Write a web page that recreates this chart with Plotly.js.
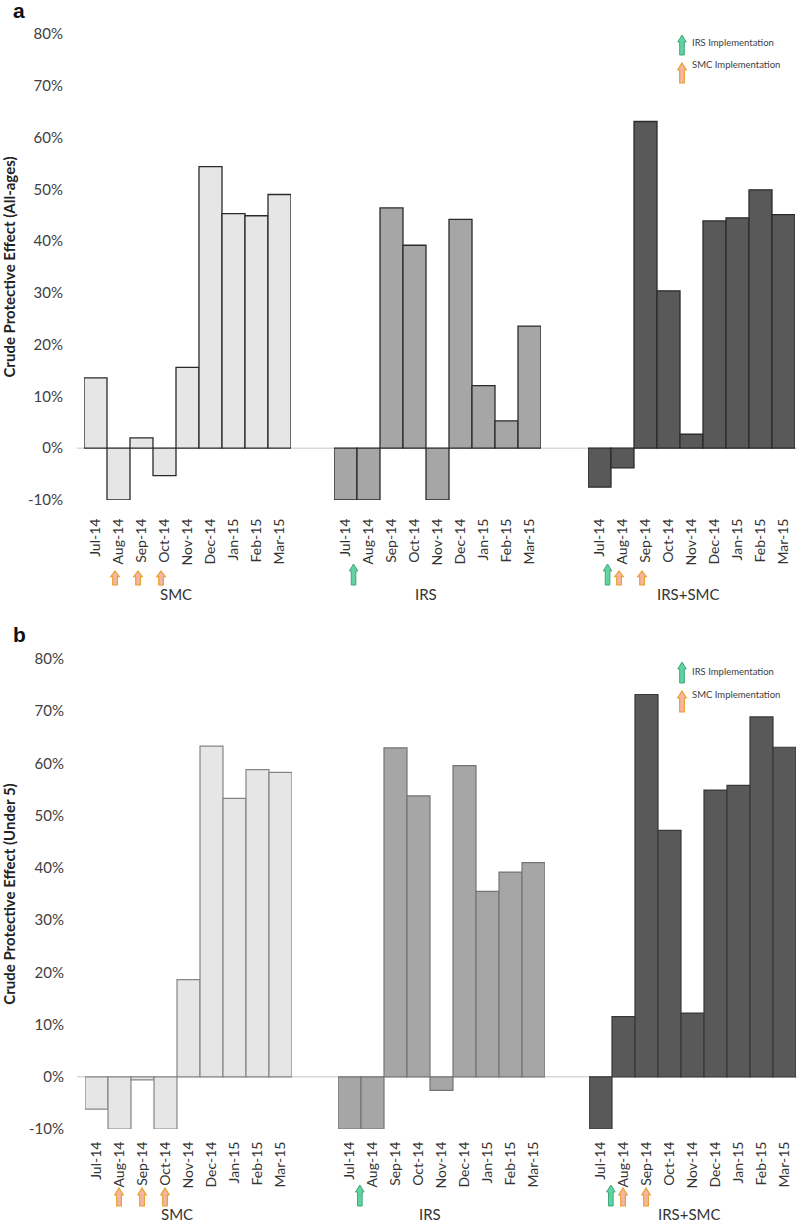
<!DOCTYPE html>
<html><head><meta charset="utf-8">
<script src="https://cdn.plot.ly/plotly-3.0.1.min.js"></script>
<style>html,body{margin:0;padding:0;background:#fff}</style>
</head><body>
<div id="chart" style="width:797px;height:1224px"></div>
<script>
// ---------- DATA ----------
const months = ['Jul-14','Aug-14','Sep-14','Oct-14','Nov-14','Dec-14','Jan-15','Feb-15','Mar-15'];
const groups = ['SMC','IRS','IRS+SMC'];
const yTickVals = [-10,0,10,20,30,40,50,60,70,80];
const yTickText = ['-10%','0%','10%','20%','30%','40%','50%','60%','70%','80%'];
const panelTitles = ['Crude Protective Effect (All-ages)','Crude Protective Effect (Under 5)'];
const panelLetters = ['a','b'];
// Panel a: all ages (%)
const smcAll    = [13.6,-10,2.0,-5.3,15.6,54.4,45.3,44.9,49.0];
const irsAll    = [-10,-10,46.4,39.2,-10,44.2,12.1,5.3,23.6];
const irsSmcAll = [-7.5,-3.8,63.1,30.4,2.7,43.9,44.5,49.9,45.1];
// Panel b: under 5 (%)
const smcU5    = [-6.2,-10,-0.6,-10,18.6,63.3,53.3,58.8,58.3];
const irsU5    = [-10,-10,63.0,53.8,-2.6,59.6,35.5,39.2,41.0];
const irsSmcU5 = [-10,11.5,73.2,47.2,12.2,54.9,55.8,68.9,63.1];
// Implementation months per group
const irsImpl = [[],['Jul-14'],['Jul-14']];
const smcImpl = [['Aug-14','Sep-14','Oct-14'],[],['Aug-14','Sep-14']];
const legendLabels = ['IRS Implementation','SMC Implementation'];

// ---------- STYLE / LAYOUT ----------
const W = 797, H = 1224;
const fontFam = 'Lato, "Noto Sans", sans-serif';
const fills = ['#e6e6e6','#a6a6a6','#595959'];
const lines = [['#2b2b2b','#2b2b2b','#2b2b2b'],['#858585','#747474','#383838']];
const lineW = [1.3,1.2];
const panels = [
  {data:[smcAll,irsAll,irsSmcAll], yTop:34, yBot:500, doms:[[84,291],[334,541],[588,795]], tlen:12,
   arrowBase:585, gH:21, oH:14, gOff:0.35, oOff:-0.15, groupY:594, letterY:11, legY:[43,64], legArrow:[[35,55],[63,83]]},
  {data:[smcU5,irsU5,irsSmcU5], yTop:659, yBot:1129, doms:[[85,292],[338,545],[589,796]], tlen:6,
   arrowBase:1206, gH:21, oH:18, gOff:0.45, oOff:-0.02, groupY:1214, letterY:634, legY:[671,694], legArrow:[[662,683],[691,712]]}
];
const px = v => v / W;
const py = v => 1 - v / H;

const traces = [];
const layout = {
  width: W, height: H, margin:{l:0,r:0,t:0,b:0}, showlegend:false,
  paper_bgcolor:'#fff', plot_bgcolor:'rgba(0,0,0,0)', bargap:0,
  font:{family:fontFam, color:'#333'},
  shapes:[], annotations:[]
};

function arrowPath(cx, tip, h){
  const w = 8.5, sw = 4.6, hh = Math.min(7, h*0.4);
  const pts = [[cx,tip],[cx+w/2,tip+hh],[cx+sw/2,tip+hh],[cx+sw/2,tip+h],[cx-sw/2,tip+h],[cx-sw/2,tip+hh],[cx-w/2,tip+hh]];
  return 'M' + pts.map(p => px(p[0]).toFixed(5)+','+py(p[1]).toFixed(5)).join(' L') + ' Z';
}
const greenStyle = {fillcolor:'#63d2a2', line:{color:'#3aa878', width:1}};
const orangeStyle = {fillcolor:'#f7b5a9', line:{color:'#e8a02a', width:1.2}};

panels.forEach((P, pi) => {
  const yName = pi === 0 ? 'y' : 'y2';
  const yKey = pi === 0 ? 'yaxis' : 'yaxis2';
  groups.forEach((g, gi) => {
    const n = pi*3 + gi + 1;
    const xName = n === 1 ? 'x' : 'x' + n;
    const xKey = n === 1 ? 'xaxis' : 'xaxis' + n;
    traces.push({
      type:'bar', x: months, y: P.data[gi], xaxis: xName, yaxis: yName, width: 1,
      marker:{color: fills[gi], line:{color: lines[pi][gi], width: lineW[pi]}},
      hoverinfo:'x+y'
    });
    layout[xKey] = {
      domain:[px(P.doms[gi][0]), px(P.doms[gi][1])], anchor: yName,
      type:'category', categoryorder:'array', categoryarray: months, range:[-0.5, 8.5],
      tickangle:-90, ticks:'outside', ticklen: P.tlen, tickcolor:'rgba(0,0,0,0)',
      tickfont:{size:14, color:'#333', family:fontFam},
      showgrid:false, zeroline:false, showline:false, fixedrange:true, automargin:false
    };
    const d0 = P.doms[gi][0], bw = (P.doms[gi][1]-P.doms[gi][0]) / months.length;
    irsImpl[gi].forEach(m => {
      const cx = d0 + (months.indexOf(m) + 0.5 + P.gOff) * bw;
      layout.shapes.push(Object.assign({type:'path', xref:'paper', yref:'paper', path: arrowPath(cx, P.arrowBase - P.gH, P.gH)}, greenStyle));
    });
    smcImpl[gi].forEach(m => {
      const cx = d0 + (months.indexOf(m) + 0.5 + P.oOff) * bw;
      layout.shapes.push(Object.assign({type:'path', xref:'paper', yref:'paper', path: arrowPath(cx, P.arrowBase - P.oH, P.oH)}, orangeStyle));
    });
    const frac = gi === 2 ? 0.485 : 0.445;
    layout.annotations.push({xref:'paper', yref:'paper', x: px(d0 + frac*(P.doms[gi][1]-d0)), y: py(P.groupY),
      text: g, showarrow:false, xanchor:'center', yanchor:'middle', font:{size:15, color:'#333', family:fontFam}});
  });
  layout[yKey] = {
    domain:[py(P.yBot), py(P.yTop)], anchor: pi===0 ? 'x' : 'x4', range:[-10, 80],
    tickvals: yTickVals, ticktext: yTickText, ticks:'outside', ticklen:17, tickcolor:'rgba(0,0,0,0)',
    tickfont:{size:15, color:'#404040', family:fontFam},
    showgrid:false, zeroline:false, showline:false, fixedrange:true, automargin:false,
    title:{text: panelTitles[pi], standoff: 12, font:{size:15, color:'#222', family:fontFam, weight:'bold'}}
  };
  layout.shapes.push({type:'line', xref:'paper', yref: yName, x0: px(77), x1: 1, y0:0, y1:0,
    line:{color:'#d9d9d9', width:1.5}, layer:'below'});
  layout.annotations.push({xref:'paper', yref:'paper', x: px(11), y: py(P.letterY), text: panelLetters[pi],
    showarrow:false, xanchor:'left', yanchor:'middle', font:{size:21, color:'#111', family:'"Liberation Sans", Arial, sans-serif', weight:'bold'}});
  layout.shapes.push(Object.assign({type:'path', xref:'paper', yref:'paper',
    path: arrowPath(682, P.legArrow[0][0], P.legArrow[0][1]-P.legArrow[0][0])}, greenStyle));
  layout.shapes.push(Object.assign({type:'path', xref:'paper', yref:'paper',
    path: arrowPath(682, P.legArrow[1][0], P.legArrow[1][1]-P.legArrow[1][0])}, orangeStyle));
  legendLabels.forEach((t, li) => {
    layout.annotations.push({xref:'paper', yref:'paper', x: px(690), y: py(P.legY[li]), text: t,
      showarrow:false, xanchor:'left', yanchor:'middle', font:{size:9.5, color:'#404040', family:fontFam}});
  });
});

Plotly.newPlot('chart', traces, layout, {staticPlot:true, displayModeBar:false});
</script>
</body></html>
